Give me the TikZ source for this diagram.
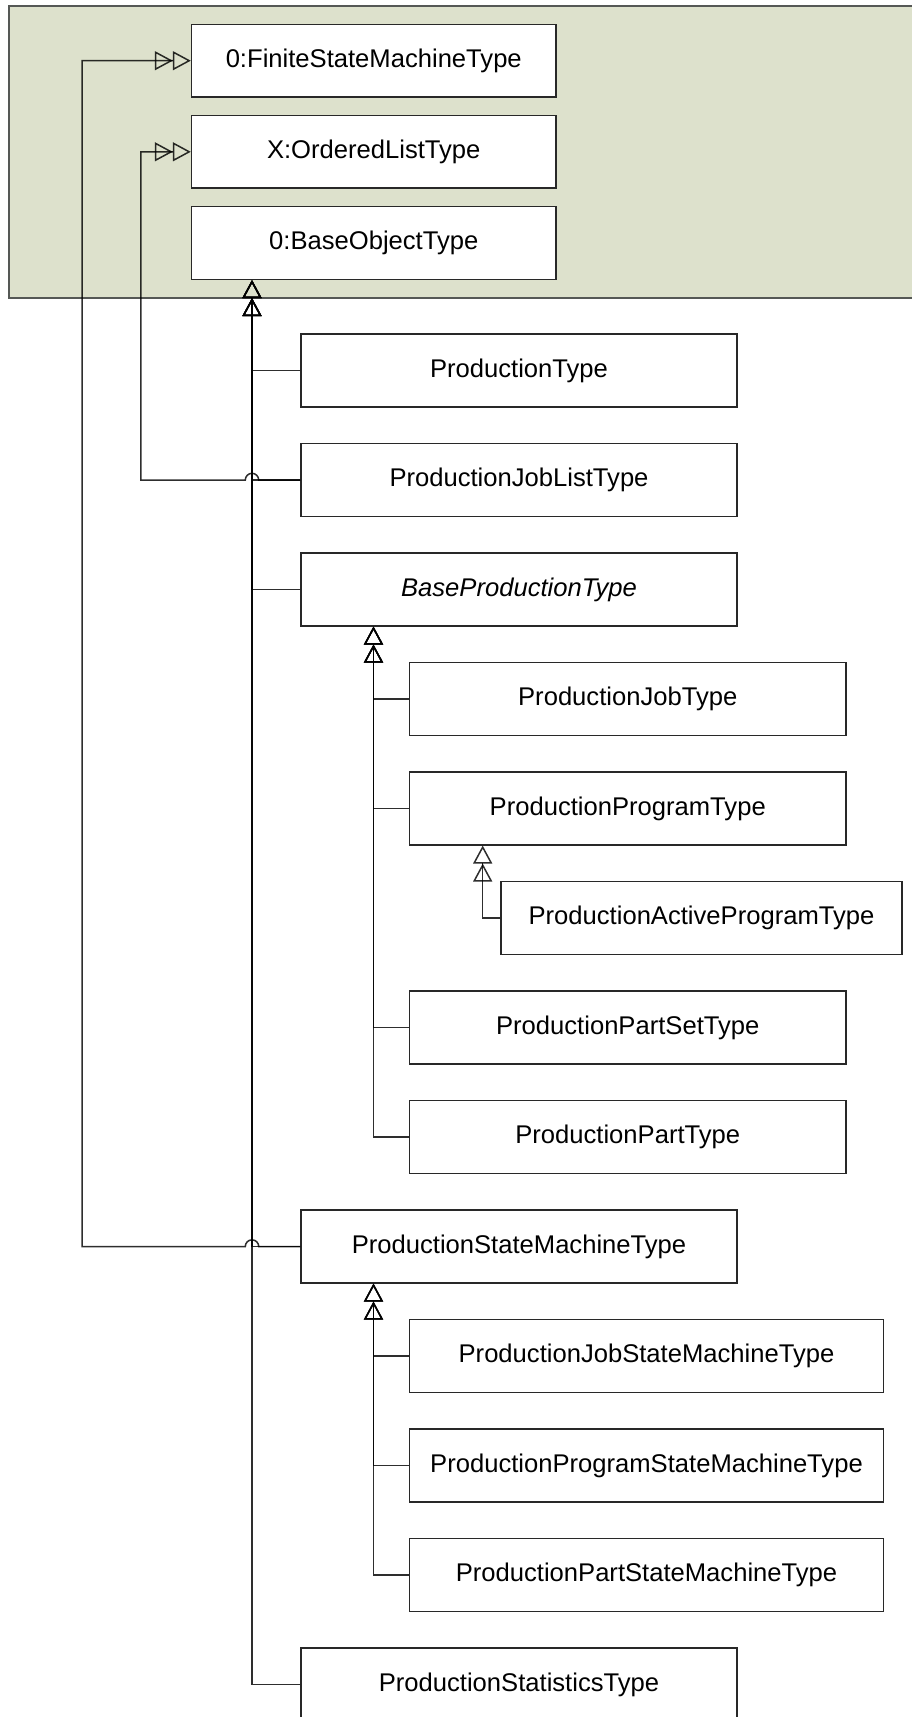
\documentclass[tikz,border=0pt]{standalone}
\usepackage{fontspec}
\setmainfont{Liberation Sans}
\usetikzlibrary{arrows.meta,calc}

\definecolor{pkgfill}{RGB}{221,225,204}
\definecolor{pkgline}{RGB}{85,88,85}
\definecolor{boxline}{RGB}{40,40,40}

\tikzset{
  cls/.style={rectangle, draw=boxline, line width=1.4pt, fill=white,
    minimum height=72.7pt, inner sep=0pt,
    font=\fontsize{25.6}{30}\selectfont},
  wtop/.style={minimum width=364.5pt},
  wmid/.style={minimum width=436pt},
  wsub/.style={minimum width=436.5pt},
  wwide/.style={minimum width=474pt},
  wact/.style={minimum width=401pt},
  gen/.style={draw=black, draw opacity=0.82, line width=1.5pt,
    -{Triangle[open,length=18pt,width=19pt,sep=0pt] Triangle[open,length=18pt,width=19pt]}},
}

\begin{document}
\begin{tikzpicture}[x=1pt,y=1pt]
\useasboundingbox (0,0) rectangle (912,-1717);
\clip (0,0) rectangle (912,-1717);

% imported package frame
\fill[pkgfill] (8.7,-5.7) rectangle (930,-297.7);
\draw[pkgline, line width=2pt] (930,-5.7) -- (8.7,-5.7) -- (8.7,-297.7) -- (930,-297.7);

% vertical routing lines
\coordinate (fsmx) at (82,0);
\coordinate (oltx) at (140.8,0);
\coordinate (trunk) at (252,0);
\coordinate (subA) at (373.5,0);
\coordinate (subB) at (482.7,0);

% classes
\node[cls,wtop] (FSM) at (373.75,-60.7) {0:FiniteStateMachineType};
\node[cls,wtop] (OLT) at (373.75,-151.8) {X:OrderedListType};
\node[cls,wtop] (BOT) at (373.75,-243) {0:BaseObjectType};

\node[cls,wmid] (PT)   at (519,-370.5) {ProductionType};
\node[cls,wmid] (PJLT) at (519,-480) {ProductionJobListType};
\node[cls,wmid] (BPT)  at (519,-589.5) {\itshape BaseProductionType};
\node[cls,wsub] (PJT)  at (627.75,-699) {ProductionJobType};
\node[cls,wsub] (PPT)  at (627.75,-808.5) {ProductionProgramType};
\node[cls,wact] (PAPT) at (701.5,-918) {ProductionActiveProgramType};
\node[cls,wsub] (PPST) at (627.75,-1027.5) {ProductionPartSetType};
\node[cls,wsub] (PPaT) at (627.75,-1137) {ProductionPartType};
\node[cls,wmid] (PSMT) at (519,-1246.5) {ProductionStateMachineType};
\node[cls,wwide] (PJSMT)  at (646.5,-1356) {ProductionJobStateMachineType};
\node[cls,wwide] (PPSMT)  at (646.5,-1465.5) {ProductionProgramStateMachineType};
\node[cls,wwide] (PPaSMT) at (646.5,-1575) {ProductionPartStateMachineType};
\node[cls,wmid] (PST)  at (519,-1684.5) {ProductionStatisticsType};

% generalisations to 0:BaseObjectType
\draw[gen] (PT.west)   -| (BOT.south -| trunk);
\draw[gen] (PJLT.west) -| (BOT.south -| trunk);
\draw[gen] (BPT.west)  -| (BOT.south -| trunk);
\draw[gen] (PSMT.west) -| (BOT.south -| trunk);
\draw[gen] (PST.west)  -| (BOT.south -| trunk);

% generalisations to BaseProductionType
\draw[gen] (PJT.west)  -| (BPT.south -| subA);
\draw[gen] (PPT.west)  -| (BPT.south -| subA);
\draw[gen] (PPST.west) -| (BPT.south -| subA);
\draw[gen] (PPaT.west) -| (BPT.south -| subA);

% ProductionActiveProgramType
\draw[gen] (PAPT.west) -| (PPT.south -| subB);

% generalisations to ProductionStateMachineType
\draw[gen] (PJSMT.west)  -| (PSMT.south -| subA);
\draw[gen] (PPSMT.west)  -| (PSMT.south -| subA);
\draw[gen] (PPaSMT.west) -| (PSMT.south -| subA);

% cross-package generalisations, hopping over the trunk
\draw[gen] (PJLT.west) -- ($(PJLT.west -| trunk)+(6.7,0)$)
  arc[start angle=0,end angle=180,radius=6.7pt]
  -- (PJLT.west -| oltx) |- (OLT.west);
\draw[gen] (PSMT.west) -- ($(PSMT.west -| trunk)+(6.7,0)$)
  arc[start angle=0,end angle=180,radius=6.7pt]
  -- (PSMT.west -| fsmx) |- (FSM.west);
\end{tikzpicture}
\end{document}
